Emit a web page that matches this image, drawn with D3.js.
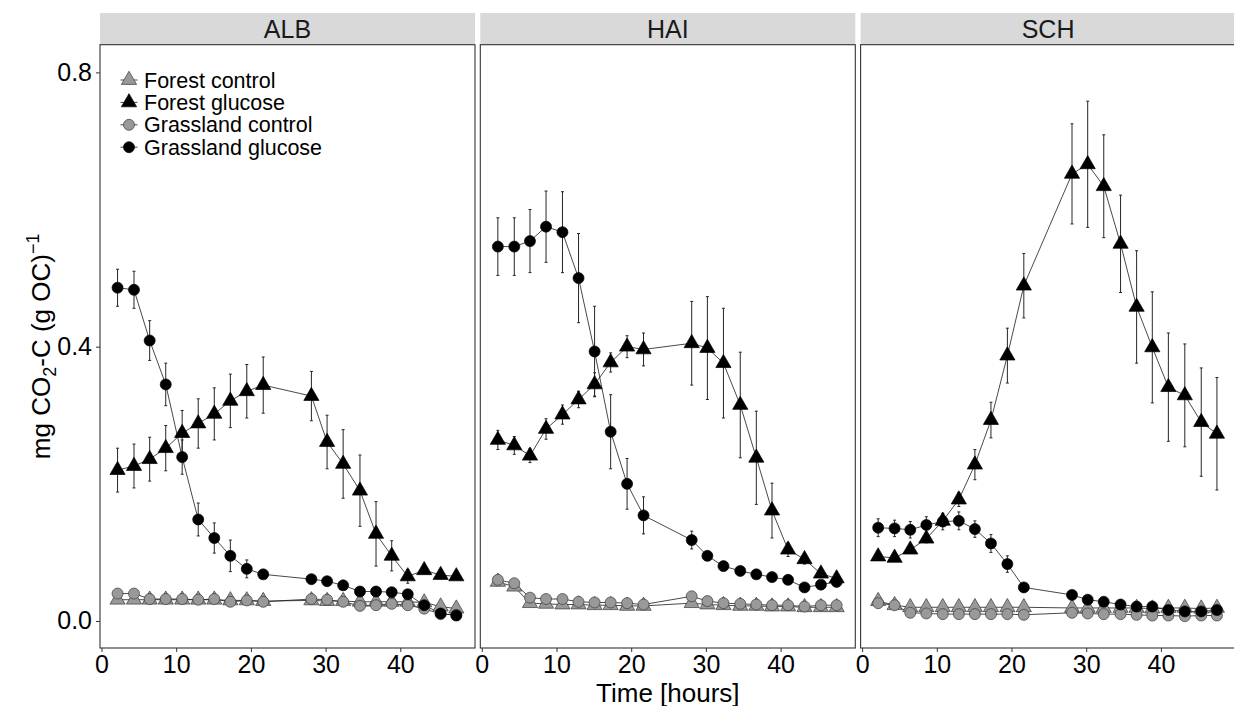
<!DOCTYPE html>
<html>
<head>
<meta charset="utf-8">
<script src="https://cdn.jsdelivr.net/npm/d3@7"></script>
<style>
    html, body { margin: 0; padding: 0; background: #ffffff; }
    svg { display: block; font-family: 'Liberation Sans', Arial, sans-serif; }
</style>
</head>
<body>
<svg id="chart" width="1234" height="706"></svg>
<script>
// sampling times (hours), shared by all sites
const times = [2.15, 4.35, 6.45, 8.6, 10.8, 12.95, 15.1, 17.25, 19.45, 21.65,
    28.1, 30.2, 32.35, 34.6, 36.75, 38.85, 41.0, 43.2, 45.4, 47.5];

const sites = ['ALB', 'HAI', 'SCH'];
const seriesNames = ['Forest control', 'Forest glucose', 'Grassland control', 'Grassland glucose'];
const xTicks = [0, 10, 20, 30, 40];
const yTicks = [0.0, 0.4, 0.8];

// ALB
const albForestControl = [0.031, 0.031, 0.031, 0.031, 0.031, 0.031, 0.031, 0.030, 0.030, 0.029,
    0.030, 0.029, 0.029, 0.028, 0.028, 0.028, 0.028, 0.027, 0.021, 0.018];
const albForestControlSe = [0.003, 0.003, 0.003, 0.003, 0.003, 0.003, 0.003, 0.003, 0.003, 0.003,
    0.003, 0.003, 0.003, 0.003, 0.003, 0.003, 0.003, 0.003, 0.003, 0.003];
const albForestGlucose = [0.220, 0.226, 0.236, 0.252, 0.274, 0.288, 0.302, 0.321, 0.335, 0.344,
    0.328, 0.261, 0.229, 0.190, 0.127, 0.095, 0.065, 0.074, 0.067, 0.065];
const albForestGlucoseSe = [0.032, 0.032, 0.032, 0.033, 0.033, 0.036, 0.038, 0.039, 0.039, 0.041,
    0.036, 0.039, 0.050, 0.052, 0.047, 0.022, 0.010, 0.004, 0.004, 0.004];
const albGrassControl = [0.040, 0.040, 0.032, 0.032, 0.032, 0.031, 0.032, 0.028, 0.030, 0.028,
    0.032, 0.031, 0.028, 0.022, 0.023, 0.025, 0.023, 0.018, 0.010, 0.009];
const albGrassControlSe = [0.003, 0.003, 0.003, 0.003, 0.003, 0.003, 0.003, 0.003, 0.003, 0.003,
    0.003, 0.003, 0.003, 0.003, 0.003, 0.003, 0.003, 0.003, 0.003, 0.003];
const albGrassGlucose = [0.486, 0.483, 0.409, 0.345, 0.239, 0.148, 0.121, 0.095, 0.076, 0.068,
    0.061, 0.058, 0.052, 0.043, 0.043, 0.042, 0.039, 0.023, 0.011, 0.008];
const albGrassGlucoseSe = [0.027, 0.027, 0.029, 0.031, 0.025, 0.024, 0.022, 0.023, 0.013, 0.006,
    0.005, 0.005, 0.005, 0.005, 0.005, 0.005, 0.005, 0.005, 0.004, 0.004];

// HAI
const haiForestControl = [0.057, 0.050, 0.026, 0.025, 0.024, 0.024, 0.023, 0.023, 0.022, 0.022,
    0.026, 0.024, 0.023, 0.022, 0.022, 0.021, 0.021, 0.020, 0.020, 0.020];
const haiForestControlSe = [0.003, 0.003, 0.003, 0.003, 0.003, 0.003, 0.003, 0.003, 0.003, 0.003,
    0.003, 0.003, 0.003, 0.003, 0.003, 0.003, 0.003, 0.003, 0.003, 0.003];
const haiForestGlucose = [0.264, 0.256, 0.241, 0.280, 0.301, 0.323, 0.345, 0.377, 0.400, 0.396,
    0.405, 0.398, 0.376, 0.315, 0.238, 0.161, 0.104, 0.090, 0.069, 0.062];
const haiForestGlucoseSe = [0.014, 0.013, 0.010, 0.015, 0.014, 0.012, 0.017, 0.014, 0.016, 0.024,
    0.061, 0.075, 0.080, 0.077, 0.068, 0.040, 0.010, 0.007, 0.005, 0.004];
const haiGrassControl = [0.060, 0.055, 0.034, 0.032, 0.032, 0.028, 0.027, 0.027, 0.026, 0.024,
    0.036, 0.029, 0.026, 0.025, 0.024, 0.023, 0.023, 0.021, 0.023, 0.023];
const haiGrassControlSe = [0.003, 0.003, 0.003, 0.003, 0.003, 0.003, 0.003, 0.003, 0.003, 0.003,
    0.003, 0.003, 0.003, 0.003, 0.003, 0.003, 0.003, 0.003, 0.003, 0.003];
const haiGrassGlucose = [0.546, 0.546, 0.554, 0.575, 0.567, 0.500, 0.393, 0.276, 0.200, 0.154,
    0.118, 0.095, 0.080, 0.073, 0.068, 0.064, 0.060, 0.049, 0.053, 0.057];
const haiGrassGlucoseSe = [0.042, 0.042, 0.046, 0.052, 0.059, 0.065, 0.066, 0.054, 0.037, 0.027,
    0.013, 0.005, 0.004, 0.004, 0.004, 0.004, 0.004, 0.004, 0.004, 0.004];

// SCH
const schForestControl = [0.029, 0.023, 0.020, 0.020, 0.020, 0.020, 0.020, 0.020, 0.020, 0.020,
    0.019, 0.019, 0.019, 0.019, 0.019, 0.018, 0.019, 0.019, 0.018, 0.019];
const schForestControlSe = [0.003, 0.003, 0.003, 0.003, 0.003, 0.003, 0.003, 0.003, 0.003, 0.003,
    0.003, 0.003, 0.003, 0.003, 0.003, 0.003, 0.003, 0.003, 0.003, 0.003];
const schForestGlucose = [0.094, 0.092, 0.104, 0.120, 0.146, 0.177, 0.228, 0.293, 0.387, 0.489,
    0.652, 0.666, 0.634, 0.550, 0.458, 0.399, 0.341, 0.329, 0.290, 0.273];
const schForestGlucoseSe = [0.004, 0.004, 0.005, 0.006, 0.008, 0.010, 0.022, 0.026, 0.040, 0.047,
    0.073, 0.092, 0.075, 0.071, 0.082, 0.081, 0.079, 0.075, 0.079, 0.082];
const schGrassControl = [0.026, 0.023, 0.012, 0.011, 0.010, 0.010, 0.010, 0.010, 0.010, 0.009,
    0.012, 0.011, 0.010, 0.010, 0.009, 0.008, 0.008, 0.007, 0.008, 0.008];
const schGrassControlSe = [0.003, 0.003, 0.003, 0.003, 0.003, 0.003, 0.003, 0.003, 0.003, 0.003,
    0.003, 0.003, 0.003, 0.003, 0.003, 0.003, 0.003, 0.003, 0.003, 0.003];
const schGrassGlucose = [0.136, 0.135, 0.133, 0.140, 0.145, 0.146, 0.134, 0.113, 0.083, 0.049,
    0.038, 0.031, 0.028, 0.024, 0.021, 0.021, 0.016, 0.014, 0.014, 0.016];
const schGrassGlucoseSe = [0.013, 0.012, 0.012, 0.012, 0.012, 0.013, 0.012, 0.013, 0.012, 0.005,
    0.004, 0.004, 0.004, 0.004, 0.004, 0.004, 0.004, 0.004, 0.004, 0.004];

const siteValues = {
    ALB: [[albForestControl, albForestControlSe], [albForestGlucose, albForestGlucoseSe],
        [albGrassControl, albGrassControlSe], [albGrassGlucose, albGrassGlucoseSe]],
    HAI: [[haiForestControl, haiForestControlSe], [haiForestGlucose, haiForestGlucoseSe],
        [haiGrassControl, haiGrassControlSe], [haiGrassGlucose, haiGrassGlucoseSe]],
    SCH: [[schForestControl, schForestControlSe], [schForestGlucose, schForestGlucoseSe],
        [schGrassControl, schGrassControlSe], [schGrassGlucose, schGrassGlucoseSe]]
};

// marker styles per series
const seriesStyle = {
    'Forest control': { shape: 'triangle', fill: '#999999', stroke: '#3a3a3a' },
    'Forest glucose': { shape: 'triangle', fill: '#000000', stroke: '#000000' },
    'Grassland control': { shape: 'circle', fill: '#999999', stroke: '#3a3a3a' },
    'Grassland glucose': { shape: 'circle', fill: '#000000', stroke: '#000000' }
};
// drawing order, later on top
const drawOrder = ['Forest control', 'Grassland control', 'Grassland glucose', 'Forest glucose'];

const params = {
    panelLeft: 100,
    panelWidth: 375,
    panelGap: 5.3,
    stripTop: 13,
    panelTop: 44.7,
    panelBottom: 648,
    triangleSize: 100,
    circleRadius: 5.5,
    tickFont: 25,
    titleFont: 26,
    legendFont: 21.5
};

const svg = d3.select('#chart');

const x = d3.scaleLinear().domain([-0.2, 50.0]).range([0, params.panelWidth]);
const y = d3.scaleLinear().domain([-0.0394, 0.8404]).range([params.panelBottom, params.panelTop]);

const triangle = d3.symbol().type(d3.symbolTriangle).size(params.triangleSize);

function drawMarker(sel, name) {
    const style = seriesStyle[name];
    if (style.shape === 'triangle') {
        sel.append('path')
            .attr('d', triangle)
            .attr('fill', style.fill)
            .attr('stroke', style.stroke)
            .attr('stroke-width', 0.7);
    } else {
        sel.append('circle')
            .attr('r', params.circleRadius)
            .attr('fill', style.fill)
            .attr('stroke', style.stroke)
            .attr('stroke-width', 0.7);
    }
}

sites.forEach((site, i) => {
    const left = params.panelLeft + i * (params.panelWidth + params.panelGap);
    const g = svg.append('g').attr('transform', `translate(${left},0)`);

    // strip
    g.append('rect')
        .attr('x', 0)
        .attr('y', params.stripTop)
        .attr('width', params.panelWidth)
        .attr('height', params.panelTop - params.stripTop)
        .attr('fill', '#d9d9d9');
    g.append('text')
        .attr('x', params.panelWidth / 2)
        .attr('y', (params.stripTop + params.panelTop) / 2)
        .attr('dy', '0.36em')
        .attr('text-anchor', 'middle')
        .attr('font-size', params.tickFont)
        .attr('fill', '#1a1a1a')
        .text(site);

    const rows = seriesNames.map((name, k) => ({
        name,
        points: times.map((t, j) => ({
            t,
            v: siteValues[site][k][0][j],
            se: siteValues[site][k][1][j]
        }))
    }));
    const ordered = drawOrder.map(name => rows.find(r => r.name === name));

    const plot = g.append('g');

    const line = d3.line().x(d => x(d.t)).y(d => y(d.v));

    plot.selectAll('path.series-line')
        .data(ordered)
        .enter()
        .append('path')
        .attr('class', 'series-line')
        .attr('d', d => line(d.points))
        .attr('fill', 'none')
        .attr('stroke', '#1a1a1a')
        .attr('stroke-width', 0.8);

    ordered.forEach(row => {
        const bars = plot.append('g')
            .selectAll('g')
            .data(row.points)
            .enter()
            .append('g')
            .attr('stroke', '#262626')
            .attr('stroke-width', 1);
        bars.append('line')
            .attr('x1', d => x(d.t)).attr('x2', d => x(d.t))
            .attr('y1', d => y(d.v - d.se)).attr('y2', d => y(d.v + d.se));
        bars.append('line')
            .attr('x1', d => x(d.t) - 1.5).attr('x2', d => x(d.t) + 1.5)
            .attr('y1', d => y(d.v - d.se)).attr('y2', d => y(d.v - d.se));
        bars.append('line')
            .attr('x1', d => x(d.t) - 1.5).attr('x2', d => x(d.t) + 1.5)
            .attr('y1', d => y(d.v + d.se)).attr('y2', d => y(d.v + d.se));
    });

    ordered.forEach(row => {
        plot.append('g')
            .selectAll('g')
            .data(row.points)
            .enter()
            .append('g')
            .attr('transform', d => `translate(${x(d.t)},${y(d.v)})`)
            .each(function() { drawMarker(d3.select(this), row.name); });
    });

    // panel border
    g.append('rect')
        .attr('x', 0)
        .attr('y', params.panelTop)
        .attr('width', params.panelWidth)
        .attr('height', params.panelBottom - params.panelTop)
        .attr('fill', 'none')
        .attr('stroke', '#333333')
        .attr('stroke-width', 1.1);

    // x axis
    const xAxis = g.append('g')
        .attr('transform', `translate(0,${params.panelBottom})`)
        .call(d3.axisBottom(x).tickValues(xTicks).tickFormat(d3.format('d')).tickSize(4).tickPadding(3));
    xAxis.select('.domain').remove();
    xAxis.selectAll('line').attr('stroke', '#333333');
    xAxis.selectAll('text')
        .attr('font-size', params.tickFont)
        .attr('font-family', "'Liberation Sans', Arial, sans-serif")
        .attr('fill', '#000000');

    if (i === 0) {
        const yAxis = g.append('g')
            .call(d3.axisLeft(y).tickValues(yTicks).tickFormat(d3.format('.1f')).tickSize(4).tickPadding(4));
        yAxis.select('.domain').remove();
        yAxis.selectAll('line').attr('stroke', '#333333');
        yAxis.selectAll('text')
            .attr('font-size', params.tickFont)
            .attr('font-family', "'Liberation Sans', Arial, sans-serif")
            .attr('fill', '#000000');

        // legend
        const legend = g.append('g').attr('transform', 'translate(29,80)');
        const items = legend.selectAll('g')
            .data(seriesNames)
            .enter()
            .append('g')
            .attr('transform', (d, k) => `translate(0,${k * 22.4})`);
        items.append('line')
            .attr('x1', -8.5).attr('x2', 8.5)
            .attr('stroke', '#1a1a1a')
            .attr('stroke-width', 0.8);
        items.each(function(d) { drawMarker(d3.select(this), d); });
        items.append('text')
            .attr('x', 15)
            .attr('dy', '0.35em')
            .attr('font-size', params.legendFont)
            .attr('fill', '#000000')
            .text(d => d);
    }
});

// axis titles
const plotRight = params.panelLeft + 3 * params.panelWidth + 2 * params.panelGap;
svg.append('text')
    .attr('x', (params.panelLeft + plotRight) / 2)
    .attr('y', 701.5)
    .attr('text-anchor', 'middle')
    .attr('font-size', params.titleFont)
    .text('Time [hours]');

const yTitle = svg.append('text')
    .attr('transform', `translate(50,${(params.panelTop + params.panelBottom) / 2}) rotate(-90)`)
    .attr('text-anchor', 'middle')
    .attr('font-size', params.titleFont);
yTitle.append('tspan').text('mg CO');
yTitle.append('tspan').attr('font-size', 18).attr('dy', 6).text('2');
yTitle.append('tspan').attr('dy', -6).text('-C (g OC)');
yTitle.append('tspan').attr('font-size', 18).attr('dy', -11).text('\u22121');
</script>
</body>
</html>
